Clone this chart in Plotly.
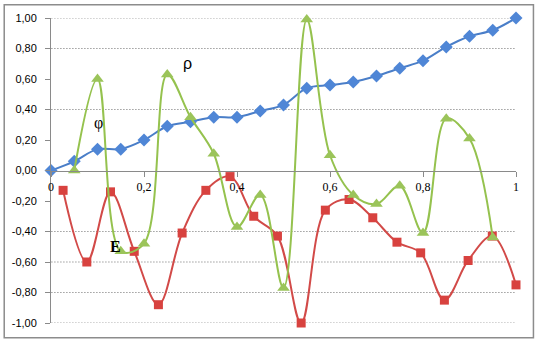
import plotly.graph_objects as go

# --- data -------------------------------------------------------------
rho_x = [0.00, 0.05, 0.10, 0.15, 0.20, 0.25, 0.30, 0.35, 0.40, 0.45, 0.50,
         0.55, 0.60, 0.65, 0.70, 0.75, 0.80, 0.85, 0.90, 0.95, 1.00]
rho_y = [0.00, 0.06, 0.14, 0.14, 0.20, 0.29, 0.32, 0.35, 0.35, 0.39, 0.43,
         0.54, 0.56, 0.58, 0.62, 0.67, 0.72, 0.81, 0.88, 0.92, 1.00]

phi_x = [0.05, 0.10, 0.15, 0.20, 0.25, 0.30, 0.35, 0.40, 0.45, 0.50,
         0.55, 0.60, 0.65, 0.70, 0.75, 0.80, 0.85, 0.90, 0.95]
phi_y = [0.00, 0.60, -0.53, -0.48, 0.63, 0.35, 0.11, -0.37, -0.16, -0.77,
         0.99, 0.10, -0.16, -0.22, -0.10, -0.41, 0.34, 0.21, -0.44]

e_x = [0.026, 0.077, 0.128, 0.179, 0.231, 0.282, 0.333, 0.385, 0.436, 0.487,
       0.538, 0.590, 0.641, 0.692, 0.744, 0.795, 0.846, 0.897, 0.949, 1.000]
e_y = [-0.13, -0.60, -0.14, -0.53, -0.88, -0.41, -0.13, -0.04, -0.30, -0.43,
       -1.00, -0.26, -0.19, -0.31, -0.47, -0.54, -0.85, -0.59, -0.43, -0.75]

y_ticks = [1.0, 0.8, 0.6, 0.4, 0.2, 0.0, -0.2, -0.4, -0.6, -0.8, -1.0]
x_ticks = [0, 0.2, 0.4, 0.6, 0.8, 1]
grid_levels = [1.0, 0.8, 0.4, -0.4, -0.6, -0.8, -1.0]

# curve labels: (text, x, y, font family, bold)
curve_labels = [
    ("ρ", 0.294, 0.70, "Liberation Sans", False),
    ("φ", 0.103, 0.31, "Liberation Serif", False),
    ("E", 0.139, -0.50, "Liberation Serif", True),
]


def fmt(v):
    return f"{v:.2f}".replace(".", ",")


BLUE_LINE, BLUE_MK = "#4A7EC8", "#4F86D6"
RED_LINE, RED_MK = "#D24A48", "#D8423F"
GREEN_LINE, GREEN_MK = "#95C24E", "#9BC45A"

fig = go.Figure()

fig.add_trace(go.Scatter(
    x=rho_x, y=rho_y, mode="lines+markers", name="ρ",
    line=dict(color=BLUE_LINE, width=2, shape="spline", smoothing=1),
    marker=dict(symbol="diamond", size=10, color=BLUE_MK),
    cliponaxis=False,
))
fig.add_trace(go.Scatter(
    x=e_x, y=e_y, mode="lines+markers", name="E",
    line=dict(color=RED_LINE, width=2, shape="spline", smoothing=1),
    marker=dict(symbol="square", size=9, color=RED_MK),
    cliponaxis=False,
))
fig.add_trace(go.Scatter(
    x=phi_x, y=phi_y, mode="lines+markers", name="φ",
    line=dict(color=GREEN_LINE, width=2, shape="spline", smoothing=1),
    marker=dict(symbol="triangle-up", size=11, color=GREEN_MK),
    cliponaxis=False,
))

shapes = []
# fine dotted horizontal grid
for g in grid_levels:
    shapes.append(dict(type="line", xref="x", yref="y", x0=-0.012, x1=1.0,
                       y0=g, y1=g, layer="below",
                       line=dict(color="#6E6E6E", width=1, dash="1px,2px")))
# outer chart frame
shapes.append(dict(type="rect", xref="paper", yref="paper",
                   x0=-0.1006, x1=1.0375, y0=-0.0485, y1=1.0437,
                   line=dict(color="#8C8C8C", width=1.5), layer="below"))
fig.update_layout(shapes=shapes)

for text, x, y, fam, bold in curve_labels:
    fig.add_annotation(
        x=x, y=y, xref="x", yref="y", showarrow=False,
        text=f"<b>{text}</b>" if bold else text,
        font=dict(family=fam, size=16, color="#000000"),
    )

fig.update_layout(
    width=535, height=341,
    margin=dict(l=49, r=19, t=15, b=17),
    paper_bgcolor="white", plot_bgcolor="white",
    showlegend=False,
    font=dict(family="Liberation Sans", size=11, color="#000000"),
    xaxis=dict(
        range=[0, 1], tickvals=x_ticks,
        ticktext=[str(v).replace(".", ",") for v in x_ticks],
        showgrid=False, zeroline=False,
        showline=True, linecolor="#8A8A8A", linewidth=1,
        ticks="outside", ticklen=5, tickcolor="#8A8A8A",
        anchor="free", position=0.5,
        tickfont=dict(family="Liberation Serif", size=12),
    ),
    yaxis=dict(
        range=[-1, 1], tickvals=y_ticks,
        ticktext=[fmt(v) for v in y_ticks],
        showgrid=False, zeroline=False,
        showline=True, linecolor="#8A8A8A", linewidth=1,
        ticks="outside", ticklen=5, tickcolor="#8A8A8A",
        ticklabelstandoff=6,
        tickfont=dict(family="Liberation Sans", size=11),
    ),
)

fig.write_html("out.html")
